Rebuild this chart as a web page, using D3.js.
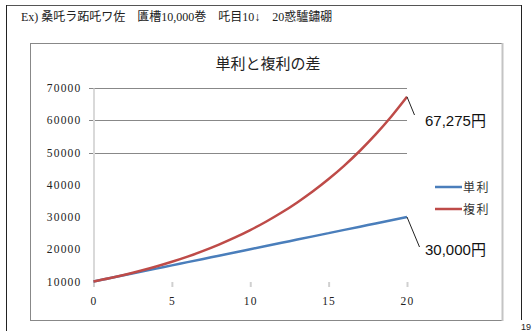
<!DOCTYPE html>
<html lang="ja">
<head>
  <meta charset="utf-8" />
  <title>単利と複利の差</title>
  <script src="https://cdn.jsdelivr.net/npm/d3@7/dist/d3.min.js"></script>
  <style>
    body { margin: 0; background: #fff; }
    svg { display: block; }
  </style>
</head>
<body>
  <div id="chart"></div>
  <script type="text/javascript">

    // data
    const years = [0, 1, 2, 3, 4, 5, 6, 7, 8, 9, 10, 11, 12, 13, 14, 15, 16, 17, 18, 19, 20];
    const simple = [10000, 11000, 12000, 13000, 14000, 15000, 16000, 17000, 18000, 19000, 20000,
                    21000, 22000, 23000, 24000, 25000, 26000, 27000, 28000, 29000, 30000];
    const compound = [10000, 11000, 12100, 13310, 14641, 16105, 17716, 19487, 21436, 23579, 25937,
                      28531, 31384, 34523, 37975, 41772, 45950, 50545, 55599, 61159, 67275];
    const seriesNames = ["単利", "複利"];
    const xTicks = [0, 5, 10, 15, 20];
    const yTicks = [10000, 20000, 30000, 40000, 50000, 60000, 70000];
    const gridTicks = [50000, 60000, 70000];
    const notes = ["67,275円", "30,000円"];

    const w = 532, h = 331;
    const svg = d3.select("#chart").append("svg").attr("width", w).attr("height", h);

    const serif = "'Liberation Serif', 'DejaVu Serif', serif";
    const jp = "'Noto Sans CJK JP', sans-serif";

    // page frame
    svg.append("line").attr("x1", 6).attr("y1", 5.5).attr("x2", 521.5).attr("y2", 5.5).attr("stroke", "#555");
    svg.append("line").attr("x1", 6.5).attr("y1", 5).attr("x2", 6.5).attr("y2", 331).attr("stroke", "#222");
    svg.append("line").attr("x1", 521.5).attr("y1", 5).attr("x2", 521.5).attr("y2", 320).attr("stroke", "#222");
    svg.append("text").attr("x", 521).attr("y", 330).attr("font-family", "'Liberation Sans', sans-serif")
      .attr("font-size", 9).attr("fill", "#222").text("19");

    svg.append("text").attr("x", 21).attr("y", 21)
      .attr("font-family", serif + ", 'Noto Sans CJK JP'").attr("font-size", 12).attr("fill", "#222")
      .text("Ex) 桑吒ラ跖吒ワ佐　匱槽10,000巻　吒目10↓　20惑驢鏽硼");

    // chart frame
    svg.append("rect").attr("x", 30.5).attr("y", 43.5).attr("width", 472).attr("height", 277)
      .attr("fill", "none").attr("stroke", "#888");
    svg.append("line").attr("x1", 502.5).attr("y1", 43).attr("x2", 502.5).attr("y2", 321)
      .attr("stroke", "#c4c4c4").attr("stroke-width", 2);

    svg.append("text").attr("x", 268).attr("y", 69).attr("text-anchor", "middle")
      .attr("font-family", jp).attr("font-size", 15).attr("fill", "#222").text("単利と複利の差");

    const x = d3.scaleLinear().domain([0, 20]).range([93.5, 407]);
    const y = d3.scaleLinear().domain([10000, 70000]).range([281.5, 88]);

    // gridlines
    svg.append("g").selectAll("line").data(gridTicks).enter().append("line")
      .attr("x1", 89).attr("x2", 407)
      .attr("y1", d => Math.round(y(d)) + 0.5).attr("y2", d => Math.round(y(d)) + 0.5)
      .attr("stroke", "#888");

    // y axis
    const yAxis = svg.append("g").attr("transform", "translate(93.5,0)")
      .call(d3.axisLeft(y).tickValues(yTicks).tickSize(0).tickPadding(12).tickFormat(d3.format("d")));
    yAxis.select(".domain").attr("stroke", "#d9d9d9").attr("stroke-width", 2);
    yAxis.selectAll("text").attr("font-family", serif).attr("font-size", 11.5)
      .attr("letter-spacing", 1.2).attr("fill", "#222");

    // x axis
    const xAxis = svg.append("g").attr("transform", "translate(0,282)")
      .call(d3.axisBottom(x).tickValues(xTicks).tickSize(5).tickPadding(10));
    xAxis.select(".domain").remove();
    xAxis.selectAll("line").attr("stroke", "#d0d0d0").attr("stroke-width", 2);
    xAxis.selectAll("text").attr("font-family", serif).attr("font-size", 11.5)
      .attr("letter-spacing", 1.2).attr("fill", "#222");

    const line = d3.line().x((d, i) => x(years[i])).y(d => y(d)).curve(d3.curveMonotoneX);
    const colors = ["#4a7ebb", "#be4b48"];
    [simple, compound].forEach((s, k) => {
      svg.append("path").datum(s).attr("d", line).attr("fill", "none")
        .attr("stroke", colors[k]).attr("stroke-width", 2.5);
    });

    // leader lines + labels
    const ends = [compound[20], simple[20]];
    const labelY = [120, 249];
    ends.forEach((v, k) => {
      svg.append("line").attr("x1", x(20)).attr("y1", y(v))
        .attr("x2", x(20) + (k === 0 ? 7.5 : 12.5)).attr("y2", labelY[k] - (k === 0 ? 5 : 2))
        .attr("stroke", "#222");
      svg.append("text").attr("x", 425).attr("y", labelY[k] + 5.5)
        .attr("font-family", "'Liberation Sans', 'Noto Sans CJK JP', sans-serif")
        .attr("font-size", 15).attr("fill", "#111").text(notes[k]);
    });

    // legend
    const legend = svg.append("g").attr("transform", "translate(435,187)");
    seriesNames.forEach((n, k) => {
      legend.append("line").attr("x1", 0).attr("x2", 27).attr("y1", k * 22).attr("y2", k * 22)
        .attr("stroke", colors[k]).attr("stroke-width", 2.5);
      legend.append("text").attr("x", 28).attr("y", k * 22 + 4.5)
        .attr("font-family", jp).attr("font-size", 12).attr("letter-spacing", 1.5)
        .attr("fill", "#333").text(n);
    });

  </script>
</body>
</html>
